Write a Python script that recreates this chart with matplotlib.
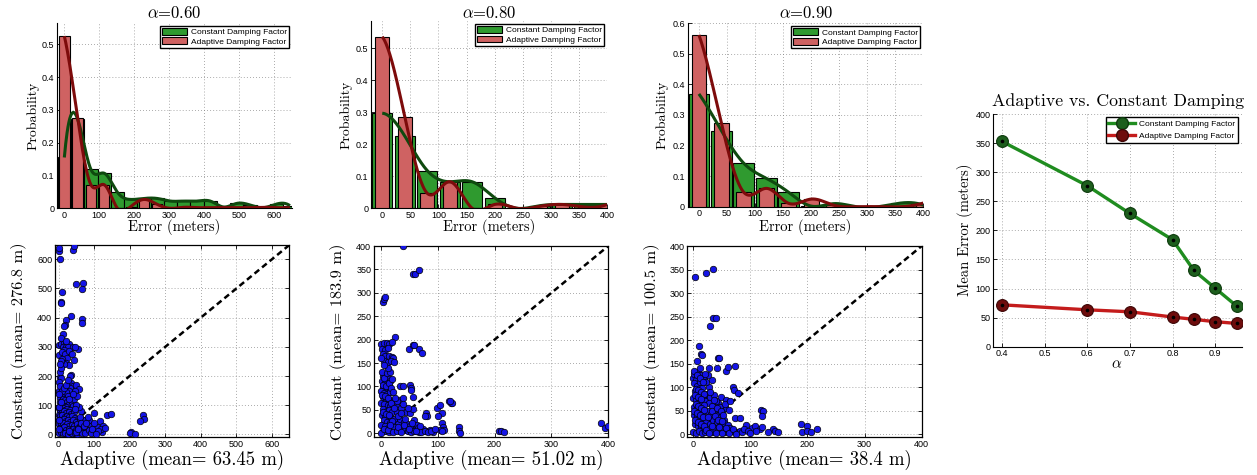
import numpy as np
import matplotlib
matplotlib.use("Agg")
import matplotlib.pyplot as plt
from matplotlib.lines import Line2D

plt.rcParams['mathtext.fontset'] = 'cm'
plt.rcParams['font.family'] = ['Liberation Sans', 'DejaVu Sans']
SERIF = 'cmr10'

# ---------------- histogram data (bin centres and probabilities) ----------------
bins_060 = [0, 38, 76, 114, 152, 190, 228, 266, 304, 342, 380, 418, 456, 494, 532, 570, 608, 646]
const_060 = [0.155, 0.272, 0.119, 0.107, 0.049, 0.027, 0.030, 0.030, 0.022, 0.022,
             0.022, 0.022, 0.004, 0.015, 0.010, 0.002, 0.013, 0.008]
adapt_060 = [0.525, 0.275, 0.072, 0.072, 0.0, 0.005, 0.027, 0.012, 0.0, 0.003,
             0.002, 0.002, 0.002, 0.002, 0.002, 0.003, 0.002, 0.002]

bins_080 = [0, 40, 80, 120, 160, 200, 240, 280, 320, 360, 400]
const_080 = [0.297, 0.226, 0.118, 0.083, 0.083, 0.033, 0.0, 0.008, 0.012, 0.012, 0.012]
adapt_080 = [0.536, 0.286, 0.047, 0.083, 0.0, 0.012, 0.0, 0.006, 0.012, 0.004, 0.012]

bins_090 = [0, 40, 80, 120, 160, 200, 240, 280, 320, 360, 400]
const_090 = [0.369, 0.249, 0.142, 0.093, 0.047, 0.002, 0.010, 0.0, 0.0, 0.012, 0.005]
adapt_090 = [0.562, 0.273, 0.047, 0.060, 0.011, 0.025, 0.005, 0.0, 0.0, 0.0, 0.012]

# ---------------- per-sample errors (adaptive x, constant y) ----------------
s060_adapt = [0, 2, 5, 41, 43, 50, 69, 67, 11, 7, 7, 36, 21, 18, 16, 66, 66,
              2, 8, 15, 22, 30, 12, 20, 26, 41, 55, 14, 1, 10, 18, 25, 10, 22, 30, 14, 8,
              4, 6, 34, 32, 36, 40, 32, 50, 58, 45, 28,
              2, 8, 14, 20, 26, 5, 12, 18, 24, 30, 3, 10, 16, 22, 34, 38, 40,
              1, 6, 12, 18, 25, 32, 3, 9, 15, 21, 28, 36, 44,
              0, 5, 11, 17, 24, 30, 38, 46, 55, 2, 8, 14, 20, 27, 33, 40, 48, 60, 68,
              0, 6, 12, 18, 24, 30, 37, 44, 52, 60, 70,
              3, 9, 15, 21, 28, 35, 42, 49, 56, 63, 72, 80,
              1, 7, 13, 19, 26, 32, 39, 46, 53, 60, 67, 75, 30, 48,
              99, 116, 136, 147, 116, 121, 107, 86, 74, 125, 120, 111, 90, 100, 130,
              205, 200, 214, 237, 240, 230,
              0, 4, 10, 16, 22, 26, 3, 8, 5, 30, 38, 44, 47, 12, 6, 20,
              85, 92, 95, 104, 60, 64, 58, 50, 44, 52, 46, 56, 64, 72, 78, 84,
              0, 0, 0, 0, 6, 28, 42]
s060_const = [630, 638, 600, 632, 645, 517, 518, 498, 489, 455, 449, 405, 392, 375, 372, 394, 380,
              308, 310, 312, 311, 310, 300, 300, 300, 300, 294, 290, 271, 282, 275, 262, 260, 245, 238, 240, 252,
              197, 192, 205, 200, 175, 165, 160, 170, 155, 150, 150,
              148, 140, 135, 145, 130, 125, 120, 118, 112, 105, 110, 100, 98, 95, 118, 110, 96,
              90, 88, 92, 85, 88, 82, 78, 75, 80, 72, 76, 70, 78,
              65, 62, 68, 60, 64, 58, 62, 55, 54, 50, 48, 52, 45, 50, 44, 48, 42, 45, 50,
              36, 34, 38, 30, 35, 28, 32, 28, 35, 30, 25,
              22, 18, 24, 16, 20, 14, 20, 15, 22, 12, 18, 10,
              5, 8, 3, 6, 2, 8, 4, 6, 2, 7, 4, 6, 12, 9,
              73, 46, 65, 71, 16, 8, 25, 48, 48, 30, 20, 12, 30, 40, 22,
              9, 5, 2, 65, 54, 45,
              180, 165, 150, 158, 170, 185, 215, 228, 240, 286, 275, 255, 300, 345, 330, 320,
              14, 4, 20, 2, 60, 80, 95, 100, 120, 130, 88, 18, 40, 30, 40, 60,
              20, 50, 95, 140, 110, 120, 140]

s080_adapt = [39, 56, 60, 67, 3, 5, 8, 25,
              1, 5, 10, 15, 20, 2, 7, 12, 3, 8, 14, 19, 22, 5, 12, 18, 23, 1,
              50, 57, 67, 73, 58, 33, 39, 51, 53, 53, 32, 39, 57, 45, 51, 56, 79, 81, 77,
              99, 104, 107, 101, 107, 110, 111, 104, 108, 120, 124, 126, 121, 138, 138, 139,
              208, 212, 216, 387, 394, 400,
              3, 8, 13, 17, 2, 7, 12, 4, 10, 15, 1, 6, 11, 16, 3, 9, 14, 19, 1, 6, 12, 17,
              4, 10, 15, 20, 2, 7, 13, 18, 5, 11, 16, 21, 1, 7, 13, 19, 3, 9, 15, 21, 1,
              26, 28, 24, 30, 27, 34, 38, 44, 50, 56, 62, 68, 74, 80, 86, 92,
              33, 40, 46, 52, 58, 64, 35, 42, 29,
              2, 6, 11, 4, 9, 14, 18, 22, 2, 8, 13, 18, 23, 4, 9, 14, 19, 24, 6, 12,
              17, 22, 28, 31, 36, 40, 47, 53, 59, 65, 71, 77, 83, 89, 95, 30, 36, 25,
              20, 16, 12, 6, 43, 49, 55, 61, 69, 47, 39]
s080_const = [400, 340, 340, 349, 281, 286, 291, 206,
              190, 193, 192, 190, 196, 180, 178, 182, 170, 165, 165, 163, 160, 155, 153, 155, 152, 160,
              179, 188, 179, 171, 188, 101, 100, 103, 96, 92, 71, 75, 78, 46, 44, 51, 43, 38, 38,
              53, 60, 44, 36, 21, 14, 7, 7, 4, 68, 65, 64, 68, 14, 5, 1,
              4, 5, 2, 23, 11, 16,
              122, 125, 118, 112, 112, 108, 104, 98, 95, 98, 90, 86, 84, 88, 78, 75, 72, 70, 65, 62, 60, 58,
              52, 48, 50, 45, 40, 38, 35, 33, 28, 25, 22, 20, 18, 15, 12, 10, 6, 4, 3, 5, 1,
              60, 45, 30, 20, 10, 5, 12, 8, 4, 10, 6, 3, 9, 5, 8, 3,
              30, 25, 20, 15, 28, 18, 55, 12, 70,
              130, 118, 128, 104, 100, 108, 96, 88, 82, 80, 76, 64, 54, 46, 42, 40, 26, 14, 10, 7,
              17, 2, 6, 14, 2, 18, 5, 2, 4, 12, 2, 6, 2, 6, 10, 38, 44, 76,
              115, 130, 140, 145, 30, 10, 22, 6, 15, 55, 62]

s090_adapt = [3, 23, 34, 35, 39, 30, 10, 13, 16, 7, 43, 45, 41, 58, 60, 73, 70, 71, 79,
              73, 81, 118, 122, 120, 93, 102, 108, 116, 120, 139, 143, 149,
              189, 199, 190, 199, 207, 217,
              48, 44, 58, 55, 53, 67, 76, 82,
              0, 2, 5, 9, 14, 18, 1, 6, 11, 16, 3, 8, 13, 19, 0, 5, 10, 15, 20, 2, 7, 12, 17,
              1, 6, 11, 16, 21, 3, 8, 13, 18, 0, 5, 10, 15, 20,
              24, 30, 36, 27, 33, 40, 46, 25, 31, 38, 44, 50, 23, 29, 35, 41, 47, 53,
              26, 32, 38, 44, 50, 56, 62, 28, 22, 33, 60, 64, 25,
              2, 7, 12, 17, 4, 9, 14, 18, 3, 8, 13, 18, 4, 9, 14, 19, 2, 7, 12, 17,
              3, 8, 13, 18, 22, 27, 33, 39, 45, 51, 57, 63, 69, 75, 85, 88, 96,
              26, 32, 38, 44, 50, 30, 36, 42, 48, 52, 56, 65, 62, 28, 20, 12, 100, 110, 130]
s090_const = [333, 343, 352, 246, 246, 230, 187, 170, 168, 156, 162, 161, 141, 133, 143, 145, 101, 94, 88,
              35, 35, 51, 48, 38, 19, 13, 16, 10, 14, 10, 6, 5,
              21, 18, 5, 6, 4, 10,
              79, 65, 72, 55, 30, 7, 5, 6,
              120, 128, 115, 132, 125, 118, 108, 102, 110, 98, 92, 88, 84, 80, 76, 72, 68, 64, 70, 58, 55, 50, 46,
              40, 36, 32, 28, 34, 22, 18, 14, 10, 5, 3, 6, 2, 5,
              86, 78, 84, 65, 60, 70, 58, 48, 42, 50, 40, 45, 28, 22, 30, 25, 18, 24,
              10, 4, 12, 6, 10, 4, 8, 100, 110, 115, 20, 12, 125,
              135, 125, 120, 110, 96, 94, 90, 86, 82, 78, 74, 62, 64, 60, 56, 52, 48, 44, 40, 36,
              30, 26, 22, 18, 8, 2, 16, 2, 14, 2, 12, 2, 10, 1, 4, 10, 6,
              36, 50, 38, 30, 28, 90, 72, 56, 48, 40, 64, 70, 52, 140, 128, 140, 3, 6, 4]

mean_labels = [("276.8", "63.45"), ("183.9", "51.02"), ("100.5", "38.4")]

# ---------------- mean error against alpha ----------------
alpha = [0.4, 0.6, 0.7, 0.8, 0.85, 0.9, 0.95]
mean_const = [353, 276.8, 229, 183.9, 131, 100.5, 70]
mean_adapt = [72, 63.45, 60, 51.02, 47, 43, 40]

# ---------------- styling ----------------
GREEN_BAR = '#2f9a2f'
RED_BAR = '#cf6262'
GREEN_CURVE = '#0f4a0f'
RED_CURVE = '#7d0b0b'
GRID = dict(color='#7a7a7a', linestyle=(0, (1, 3)), linewidth=0.55)
TICK_FS = 6.5

W, H = 1257, 475
fig = plt.figure(figsize=(W / 100, H / 100), dpi=100)


def axes_px(left, top, right, bottom):
    return fig.add_axes([left / W, 1 - bottom / H, (right - left) / W, (bottom - top) / H])


def text_px(x, y, s, size, rotation=0, **kw):
    fig.text(x / W, 1 - y / H, s, ha='center', va='center', rotation=rotation,
             fontsize=size, family=SERIF, **kw)


def spline_curve(x, y, n=500):
    """Not-a-knot cubic spline through equally spaced points."""
    x = np.asarray(x, float)
    y = np.asarray(y, float)
    N = len(x)
    h = x[1] - x[0]
    A = np.zeros((N, N))
    b = np.zeros(N)
    A[0, 0:3] = [1, -2, 1]
    A[-1, N - 3:N] = [1, -2, 1]
    for i in range(1, N - 1):
        A[i, i - 1:i + 2] = [h, 4 * h, h]
        b[i] = 6 * (y[i + 1] - 2 * y[i] + y[i - 1]) / h
    M = np.linalg.solve(A, b)
    xs = np.linspace(x[0], x[-1], n)
    idx = np.clip(((xs - x[0]) // h).astype(int), 0, N - 2)
    xl, xr = x[idx], x[idx + 1]
    ys = (M[idx] * (xr - xs) ** 3 / (6 * h) + M[idx + 1] * (xs - xl) ** 3 / (6 * h)
          + (y[idx] / h - M[idx] * h / 6) * (xr - xs)
          + (y[idx + 1] / h - M[idx + 1] * h / 6) * (xs - xl))
    return xs, ys


def style_open(ax):
    for s in ('top', 'right'):
        ax.spines[s].set_visible(False)
    for s in ('left', 'bottom'):
        ax.spines[s].set_linewidth(0.8)
    ax.tick_params(direction='in', length=3, width=0.6, labelsize=TICK_FS, pad=2)
    ax.grid(True, **GRID)
    ax.set_axisbelow(True)


def hist_panel(box, centers, const, adapt, wc, wa, xlim, ylim, xticks, yticks, title,
               title_xy, ylab_x, xlab_y):
    ax = axes_px(*box)
    step = centers[1] - centers[0]
    ax.bar(centers, const, width=wc * step, color=GREEN_BAR, edgecolor='black',
           linewidth=0.8, label='Constant Damping Factor', zorder=2)
    ax.bar(centers, adapt, width=wa * step, color=RED_BAR, edgecolor='black',
           linewidth=0.8, label='Adaptive Damping Factor', zorder=3)
    xs, ys = spline_curve(centers, const)
    ax.plot(xs, ys, color=GREEN_CURVE, lw=2.2, zorder=4, solid_capstyle='butt')
    xs, ys = spline_curve(centers, adapt)
    ax.plot(xs, ys, color=RED_CURVE, lw=2.2, zorder=5, solid_capstyle='butt')
    ax.set_xlim(*xlim)
    ax.set_ylim(*ylim)
    ax.set_xticks(xticks)
    ax.set_yticks(yticks)
    ax.set_yticklabels(['0' if v == 0 else f'{v:g}' for v in yticks])
    style_open(ax)
    leg = ax.legend(loc='upper right', fontsize=6, frameon=True, fancybox=False,
                    edgecolor='black', framealpha=1, borderpad=0.25, labelspacing=0.15,
                    handlelength=3.0, handleheight=0.9, handletextpad=0.5,
                    borderaxespad=0.35)
    leg.get_frame().set_linewidth(1.0)
    text_px(title_xy[0], title_xy[1], r'$\alpha$=' + title, 12)
    cx = (box[0] + box[2]) / 2
    text_px(cx, xlab_y, 'Error (meters)', 10.5)
    text_px(ylab_x, (box[1] + box[3]) / 2, 'Probability', 10, rotation=90)
    return ax


def scatter_panel(box, xs, ys, lim_x, lim_y, ticks_x, ticks_y, labels, ylab_x, xlab_y):
    ax = axes_px(*box)
    top = min(lim_x[1], lim_y[1])
    ax.plot([0, top], [0, top], color='black', lw=1.8, linestyle=(0, (2.4, 1.5)), zorder=2)
    ax.scatter(xs, ys, s=22, c='#1414e6', edgecolors='black', linewidths=0.5, zorder=3)
    ax.set_xlim(*lim_x)
    ax.set_ylim(*lim_y)
    ax.set_xticks(ticks_x)
    ax.set_yticks(ticks_y)
    for s in ax.spines.values():
        s.set_linewidth(0.9)
    ax.tick_params(direction='in', length=3, width=0.6, labelsize=TICK_FS, pad=2,
                   top=True, right=True)
    ax.grid(True, **GRID)
    ax.set_axisbelow(True)
    cx = (box[0] + box[2]) / 2
    cy = (box[1] + box[3]) / 2
    text_px(cx, xlab_y, f'Adaptive (mean= {labels[1]} m)', 13.5)
    text_px(ylab_x, cy, f'Constant (mean= {labels[0]} m)', 11.8, rotation=90)
    return ax


hist_panel((57, 22.7, 292, 208.3), bins_060, const_060, adapt_060, 1.0, 0.78,
           (-21, 652), (0, 0.566), [0, 100, 200, 300, 400, 500, 600],
           [0, 0.1, 0.2, 0.3, 0.4, 0.5], '0.60', (174, 13), 33, 227)
hist_panel((371, 21, 607, 208.3), bins_080, const_080, adapt_080, 0.9, 0.62,
           (-20, 400), (0, 0.585), [0, 50, 100, 150, 200, 250, 300, 350, 400],
           [0, 0.1, 0.2, 0.3, 0.4, 0.5], '0.80', (489, 13), 346, 227)
hist_panel((687.7, 23.3, 923.3, 206.7), bins_090, const_090, adapt_090, 0.92, 0.66,
           (-20, 400), (0, 0.6), [0, 50, 100, 150, 200, 250, 300, 350, 400],
           [0, 0.1, 0.2, 0.3, 0.4, 0.5, 0.6], '0.90', (806, 13), 662, 227)

scatter_panel((55, 245, 289, 437), s060_adapt, s060_const, (-10, 648), (-9, 649),
              [0, 100, 200, 300, 400, 500, 600], [0, 100, 200, 300, 400, 500, 600],
              mean_labels[0], 19, 460)
scatter_panel((374, 246, 608.3, 437.3), s080_adapt, s080_const, (-12, 400), (-8.5, 400),
              [0, 100, 200, 300, 400], [0, 50, 100, 150, 200, 250, 300, 350, 400],
              mean_labels[1], 338, 460)
scatter_panel((687.3, 246, 921.7, 437.3), s090_adapt, s090_const, (-10.5, 400), (-7, 400),
              [0, 100, 200, 300, 400], [0, 50, 100, 150, 200, 250, 300, 350, 400],
              mean_labels[2], 652, 460)

# ---------------- mean error vs alpha ----------------
axl = axes_px(993.3, 114, 1241.7, 346.7)
LINE_G, MARK_G = '#1f8c1f', '#1d5e1d'
LINE_R, MARK_R = '#c41c1c', '#6e0c0c'
axl.plot(alpha, mean_const, color=LINE_G, lw=2.4, marker='o', ms=8.5,
         mfc=MARK_G, mec='#0c3a0c', mew=0.8, zorder=3)
axl.plot(alpha, mean_adapt, color=LINE_R, lw=2.4, marker='o', ms=8.5,
         mfc=MARK_R, mec='#3d0606', mew=0.8, zorder=3)
axl.plot(alpha, mean_const, linestyle='none', marker='o', ms=1.6, color='black', zorder=4)
axl.plot(alpha, mean_adapt, linestyle='none', marker='o', ms=1.6, color='black', zorder=4)
axl.set_xlim(0.38, 0.962)
axl.set_ylim(0, 400)
axl.set_xticks([0.4, 0.5, 0.6, 0.7, 0.8, 0.9])
axl.set_yticks([0, 50, 100, 150, 200, 250, 300, 350, 400])
axl.set_yticklabels(['0', '50', '100', '150', '200', '250', '300', '350', '400'])
style_open(axl)
axl.grid(True, **GRID)
handles = [Line2D([], [], color=LINE_G, lw=2.4, marker='o', ms=8.5, mfc=MARK_G, mec='#0c3a0c'),
           Line2D([], [], color=LINE_R, lw=2.4, marker='o', ms=8.5, mfc=MARK_R, mec='#3d0606')]
leg = axl.legend(handles, ['Constant Damping Factor', 'Adaptive Damping Factor'],
                 loc='upper right', fontsize=6, frameon=True, fancybox=False,
                 edgecolor='black', framealpha=1, borderpad=0.35, labelspacing=0.45,
                 handlelength=3.2, handletextpad=0.5, borderaxespad=0.4)
leg.get_frame().set_linewidth(1.0)
text_px(1118, 101, 'Adaptive vs. Constant Damping', 12.8)
text_px(965, 230, 'Mean Error (meters)', 10.5, rotation=90)
text_px(1117, 364, r'$\alpha$', 11)

fig.savefig('out.png', dpi=100, facecolor='white')
